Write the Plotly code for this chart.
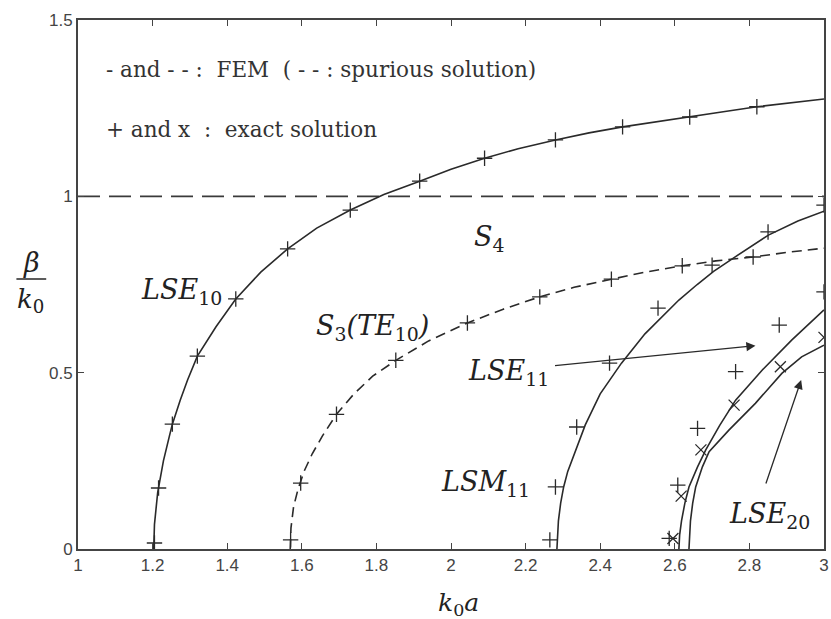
import plotly.graph_objects as go

# ---------------- data ----------------
# LSE10 (FEM, solid)
lse10_x = [1.203, 1.205, 1.2136, 1.229, 1.245, 1.253, 1.274, 1.294, 1.32, 1.37, 1.423, 1.49, 1.562,
           1.64, 1.73, 1.82, 1.916, 2.0, 2.09, 2.18, 2.28, 2.37, 2.46, 2.55, 2.64, 2.73, 2.82, 2.91, 3.0]
lse10_y = [0.0, 0.07, 0.16, 0.25, 0.32, 0.354, 0.422, 0.48, 0.547, 0.63, 0.709, 0.785, 0.851,
           0.91, 0.961, 1.005, 1.043, 1.077, 1.108, 1.135, 1.16, 1.18, 1.197, 1.212, 1.225, 1.24, 1.254, 1.265, 1.276]
lse10_ex_x = [1.205, 1.216, 1.253, 1.32, 1.423, 1.562, 1.73, 1.916, 2.09, 2.28, 2.46, 2.64, 2.82]
lse10_ex_y = [0.017, 0.173, 0.354, 0.547, 0.709, 0.851, 0.961, 1.043, 1.108, 1.16, 1.197, 1.225, 1.254]

# S3(TE10) (FEM, dashed)
s3_x = [1.569, 1.571, 1.578, 1.59, 1.606, 1.628, 1.655, 1.693, 1.74, 1.79, 1.852, 1.94, 2.044, 2.14, 2.238,
        2.33, 2.43, 2.52, 2.62, 2.71, 2.81, 2.9, 3.0]
s3_y = [0.0, 0.06, 0.12, 0.17, 0.22, 0.27, 0.32, 0.382, 0.44, 0.49, 0.535, 0.59, 0.641, 0.68, 0.715,
        0.742, 0.765, 0.785, 0.803, 0.817, 0.828, 0.841, 0.853]
s3_ex_x = [1.57, 1.597, 1.693, 1.852, 2.044, 2.238, 2.43, 2.62, 2.81]
s3_ex_y = [0.026, 0.187, 0.382, 0.535, 0.641, 0.715, 0.765, 0.803, 0.828]

# spurious horizontal line beta/k0 = 1
sp_x = [1.0, 3.0]
sp_y = [1.0, 1.0]

# LSM11 / LSE11 curve starting near 2.28
a_x = [2.284, 2.285, 2.288, 2.294, 2.302, 2.313, 2.327, 2.343, 2.36, 2.40, 2.457, 2.52, 2.585, 2.611,
       2.66, 2.704, 2.757, 2.80, 2.851, 2.93, 3.0]
a_y = [0.0, 0.04, 0.08, 0.13, 0.176, 0.22, 0.26, 0.307, 0.352, 0.44, 0.527, 0.61, 0.678, 0.706,
       0.75, 0.787, 0.825, 0.855, 0.89, 0.93, 0.958]
a_ex_x = [2.265, 2.28, 2.337, 2.425, 2.555, 2.70, 2.85, 3.0]
a_ex_y = [0.026, 0.176, 0.346, 0.527, 0.683, 0.805, 0.899, 0.975]

# right cluster curves
b_x = [2.611, 2.613, 2.618, 2.627, 2.638, 2.661, 2.683, 2.72, 2.763, 2.834, 2.914, 3.0]
b_y = [0.0, 0.04, 0.08, 0.13, 0.176, 0.233, 0.281, 0.35, 0.422, 0.507, 0.593, 0.678]
c_x = [2.638, 2.639, 2.642, 2.648, 2.656, 2.674, 2.692, 2.745, 2.816, 2.887, 2.94, 3.0]
c_y = [0.0, 0.04, 0.08, 0.13, 0.176, 0.233, 0.276, 0.337, 0.413, 0.498, 0.545, 0.578]
b_ex_x = [2.585, 2.608, 2.661, 2.763, 2.88, 3.0]
b_ex_y = [0.03, 0.181, 0.342, 0.503, 0.635, 0.729]
c_ex_x = [2.595, 2.617, 2.67, 2.759, 2.883, 3.0]
c_ex_y = [0.03, 0.15, 0.281, 0.408, 0.517, 0.60]

x_ticks = [1, 1.2, 1.4, 1.6, 1.8, 2, 2.2, 2.4, 2.6, 2.8, 3]
x_ticktext = ["1", "1.2", "1.4", "1.6", "1.8", "2", "2.2", "2.4", "2.6", "2.8", "3"]
y_ticks = [0, 0.5, 1, 1.5]
y_ticktext = ["0", "0.5", "1", "1.5"]

# ---------------- figure ----------------
INK = "#2a2a2a"
LW = 1.6
fig = go.Figure()

def line(x, y, dash="solid"):
    fig.add_trace(go.Scatter(x=x, y=y, mode="lines", line=dict(color=INK, width=LW, dash=dash),
                             showlegend=False, hoverinfo="skip"))

def marks(x, y, sym):
    fig.add_trace(go.Scatter(x=x, y=y, mode="markers",
                             marker=dict(symbol=sym, size=11, color=INK, line=dict(color=INK, width=1.3)),
                             showlegend=False, hoverinfo="skip"))

fig.add_trace(go.Scatter(x=sp_x, y=sp_y, mode="lines", line=dict(color="#3a3a3a", width=1.8, dash="22px,9px"),
                         showlegend=False, hoverinfo="skip"))
line(lse10_x, lse10_y)
line(s3_x, s3_y, dash="10px,6px")
line(a_x, a_y)
line(b_x, b_y)
line(c_x, c_y)
marks(lse10_ex_x, lse10_ex_y, "cross-thin")
marks(s3_ex_x, s3_ex_y, "cross-thin")
marks(a_ex_x, a_ex_y, "cross-thin")
marks(b_ex_x, b_ex_y, "cross-thin")
marks(c_ex_x, c_ex_y, "x-thin")

# pixel helpers for text placement (plot area: x 78..829, y 20..549)
def px(p):
    return (p - 78) / 751.0
def py(p):
    return (549 - p) / 529.0
def dx(p):
    return 1 + (p - 78) / 375.5
def dy(p):
    return (549 - p) / 352.7

serif = "DejaVu Serif, Liberation Serif, serif"
ann = []
ann.append(dict(xref="paper", yref="paper", x=px(104), y=py(69), xanchor="left", yanchor="middle",
                text="- and - - :\u00a0\u00a0FEM\u00a0\u00a0( - - : spurious solution)",
                font=dict(family=serif, size=21.5, color="#333"), showarrow=False))
ann.append(dict(xref="paper", yref="paper", x=px(104), y=py(129), xanchor="left", yanchor="middle",
                text="+ and x\u00a0\u00a0:\u00a0\u00a0exact solution",
                font=dict(family=serif, size=21.5, color="#333"), showarrow=False))

lab_font = dict(family=serif, size=27, color="#222")
def label(text, left, cy):
    ann.append(dict(xref="paper", yref="paper", x=px(left), y=py(cy), xanchor="left", yanchor="middle",
                    text=text, font=lab_font, showarrow=False))

label("<i>LSE</i><sub>10</sub>", 139, 291)
label("<i>S</i><sub>3</sub><i>(TE</i><sub>10</sub><i>)</i>", 316, 327)
label("<i>S</i><sub>4</sub>", 475, 238)
label("<i>LSE</i><sub>11</sub>", 469, 372)
label("<i>LSM</i><sub>11</sub>", 441, 483)
label("<i>LSE</i><sub>20</sub>", 731, 515)

# arrows
ann.append(dict(xref="x", yref="y", axref="x", ayref="y", x=dx(760), y=dy(345.7), ax=dx(556.7), ay=dy(365.7),
                text="", showarrow=True, arrowhead=2, arrowsize=1.4, arrowwidth=1.3, arrowcolor=INK))
ann.append(dict(xref="x", yref="y", axref="x", ayref="y", x=dx(806), y=dy(380), ax=dx(770), ay=dy(485),
                text="", showarrow=True, arrowhead=2, arrowsize=1.4, arrowwidth=1.3, arrowcolor=INK))

# axis titles
ann.append(dict(xref="paper", yref="paper", x=px(461), y=py(604), xanchor="center", yanchor="middle",
                text="<i>k</i><sub>0</sub><i>a</i>", font=dict(family=serif, size=25, color="#222"), showarrow=False))
ann.append(dict(xref="paper", yref="paper", x=px(31), y=py(262), xanchor="center", yanchor="middle",
                text="<i>β</i>", font=dict(family=serif, size=27, color="#222"), showarrow=False))
ann.append(dict(xref="paper", yref="paper", x=px(30), y=py(300), xanchor="center", yanchor="middle",
                text="<i>k</i><sub>0</sub>", font=dict(family=serif, size=26, color="#222"), showarrow=False))

shapes = [dict(type="line", xref="paper", yref="paper", x0=px(16), x1=px(46), y0=py(279), y1=py(279),
               line=dict(color="#333", width=1.6))]

axis_common = dict(showgrid=False, zeroline=False, showline=True, linecolor="#444", linewidth=2,
                   mirror="ticks", ticks="inside", ticklen=6, tickwidth=1.3, tickcolor="#444",
                   ticklabeloverflow="allow",
                   tickfont=dict(family="Liberation Sans, Arial, sans-serif", size=17, color="#444"))

fig.update_layout(
    width=831, height=619,
    margin=dict(l=78, r=2, t=20, b=70),
    paper_bgcolor="white", plot_bgcolor="white",
    xaxis=dict(range=[1, 3], tickvals=x_ticks, ticktext=x_ticktext, **axis_common),
    yaxis=dict(range=[0, 1.5], tickvals=y_ticks, ticktext=y_ticktext, **axis_common),
    annotations=ann, shapes=shapes,
)

fig.write_html("out.html")
